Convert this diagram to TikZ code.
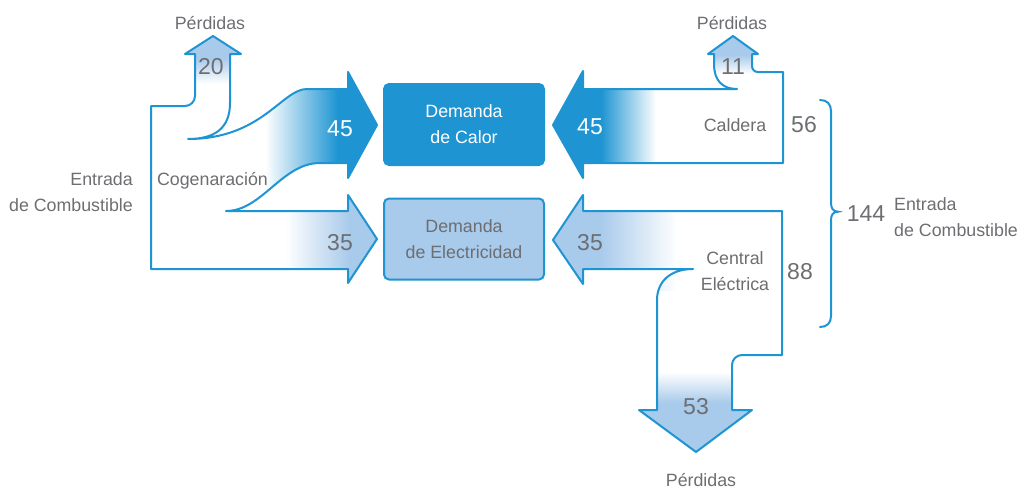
\documentclass[tikz,border=0pt]{standalone}
\usepackage{fontspec}
\setmainfont{Liberation Sans}
\definecolor{heatblue}{HTML}{1E94D2}
\definecolor{elecblue}{HTML}{A8CAEB}
\definecolor{txtgray}{HTML}{6D6E71}

\begin{document}
\begin{tikzpicture}
  [x=1pt,y=-1pt,
   flow/.style={draw=heatblue,line width=2pt,line join=round,fill=white},
   brace/.style={draw=heatblue,line width=2pt,line cap=round},
   lbl/.style={text=txtgray,font=\fontsize{17.8}{26}\selectfont,inner sep=0pt,anchor=base},
   num/.style={text=txtgray,font=\fontsize{23}{26}\selectfont,inner sep=0pt,anchor=base},
   demand/.style={rounded corners=5pt,line width=2pt,draw=heatblue,
     minimum width=160pt,minimum height=81pt,align=center,
     font=\fontsize{17.8}{26}\selectfont}]

  \useasboundingbox (0,0) rectangle (1025,490);

  % Cogeneracion
  \draw[flow,path picture={
      \fill[elecblue] (180,30) rectangle (250,58);
      \shade[top color=elecblue,bottom color=white] (180,58) rectangle (250,84);
      \shade[left color=white,right color=heatblue] (265,60) rectangle (338,194);
      \fill[heatblue] (338,60) rectangle (380,194);
      \shade[left color=white,right color=elecblue] (285,194) rectangle (350,290);
      \fill[elecblue] (350,194) rectangle (380,290);}]
    (188,139) .. controls (215,139) and (230,128) .. (230,103) -- (230,54)
    -- (241,54) -- (213,36) -- (185,54) -- (195,54) -- (195,96)
    .. controls (195,101.5) and (190.5,106) .. (185,106) -- (151,106)
    -- (151,269) -- (348,269) -- (348,283) -- (377,239) -- (348,195)
    -- (348,211) -- (226,211) .. controls (262,211) and (282,163) .. (320,163)
    -- (348,163) -- (348,178) -- (377,125) -- (348,72) -- (348,89)
    -- (307,89) .. controls (282,89) and (262,139) .. (188,139) -- cycle;

  % Caldera
  \draw[flow,path picture={
      \fill[heatblue] (545,60) rectangle (601,190);
      \shade[left color=heatblue,right color=white] (601,60) rectangle (656,190);
      \fill[elecblue] (700,30) rectangle (765,55);
      \shade[top color=elecblue,bottom color=white] (700,55) rectangle (765,74);}]
    (553,125) -- (583,71) -- (583,89) -- (737,89)
    .. controls (722,89) and (714,80) .. (714,64) -- (714,54) -- (708,54)
    -- (733,36) -- (758,54) -- (752,54) -- (752,66)
    .. controls (752,69.5) and (754.5,72) .. (758,72) -- (783,72)
    -- (783,163) -- (583,163) -- (583,178) -- cycle;

  % Central electrica
  \draw[flow,path picture={
      \fill[elecblue] (545,190) rectangle (600,290);
      \shade[left color=elecblue,right color=white] (600,190) rectangle (677,290);
      \shade[top color=white,bottom color=elecblue] (630,372) rectangle (760,403);
      \fill[elecblue] (630,403) rectangle (760,460);}]
    (553,240) -- (583,195) -- (583,211) -- (782,211) -- (782,355) -- (742,355)
    .. controls (736.5,355) and (732,359.5) .. (732,365) -- (732,410)
    -- (752,410) -- (696,452) -- (639,410) -- (657,410) -- (657,300)
    .. controls (657,282) and (670,269) .. (693,269) -- (583,269)
    -- (583,284) -- cycle;

  \draw[brace] (820,100) .. controls (827,100) and (831,104) .. (831,111)
    -- (831,203) .. controls (831,208) and (833,211.7) .. (838,211.7)
    .. controls (833,211.7) and (831,215) .. (831,220) -- (831,316)
    .. controls (831,323) and (827,327) .. (820,327);

  \node[demand,fill=heatblue,text=white] (calor) at (464,124.5) {Demanda\\de Calor};
  \node[demand,fill=elecblue,text=txtgray] (elec) at (464,239) {Demanda\\de Electricidad};

  \node[lbl] (lossCog) at (210,29) {Pérdidas};
  \node[lbl] (lossCal) at (732,29) {Pérdidas};
  \node[lbl] (lossCen) at (701,486) {Pérdidas};
  \node[num] (n20) at (211,74) {20};
  \node[num] (n11) at (733,74) {11};
  \node[num] (n53) at (696,414) {53};
  \node[num,text=white] (cogHeat) at (340,136.5) {45};
  \node[num] (cogElec) at (340,250.5) {35};
  \node[num,text=white] (calHeat) at (590,134) {45};
  \node[num] (cenElec) at (590,250) {35};
  \node[num] (n56) at (804,132.5) {56};
  \node[num] (n88) at (800,279) {88};
  \node[num] (n144) at (866,221) {144};

  \node[lbl] (cogen) at (212.5,185) {Cogenaración};
  \node[lbl] (caldera) at (735,131.5) {Caldera};
  \node[lbl,align=center] (central) at (735,290) {Central\\Eléctrica};
  \node[lbl,align=right,anchor=base east] (fuelL) at (133,211.5) {Entrada\\de Combustible};
  \node[lbl,align=left,anchor=base west] (fuelR) at (894,236) {Entrada\\de Combustible};
\end{tikzpicture}
\end{document}
